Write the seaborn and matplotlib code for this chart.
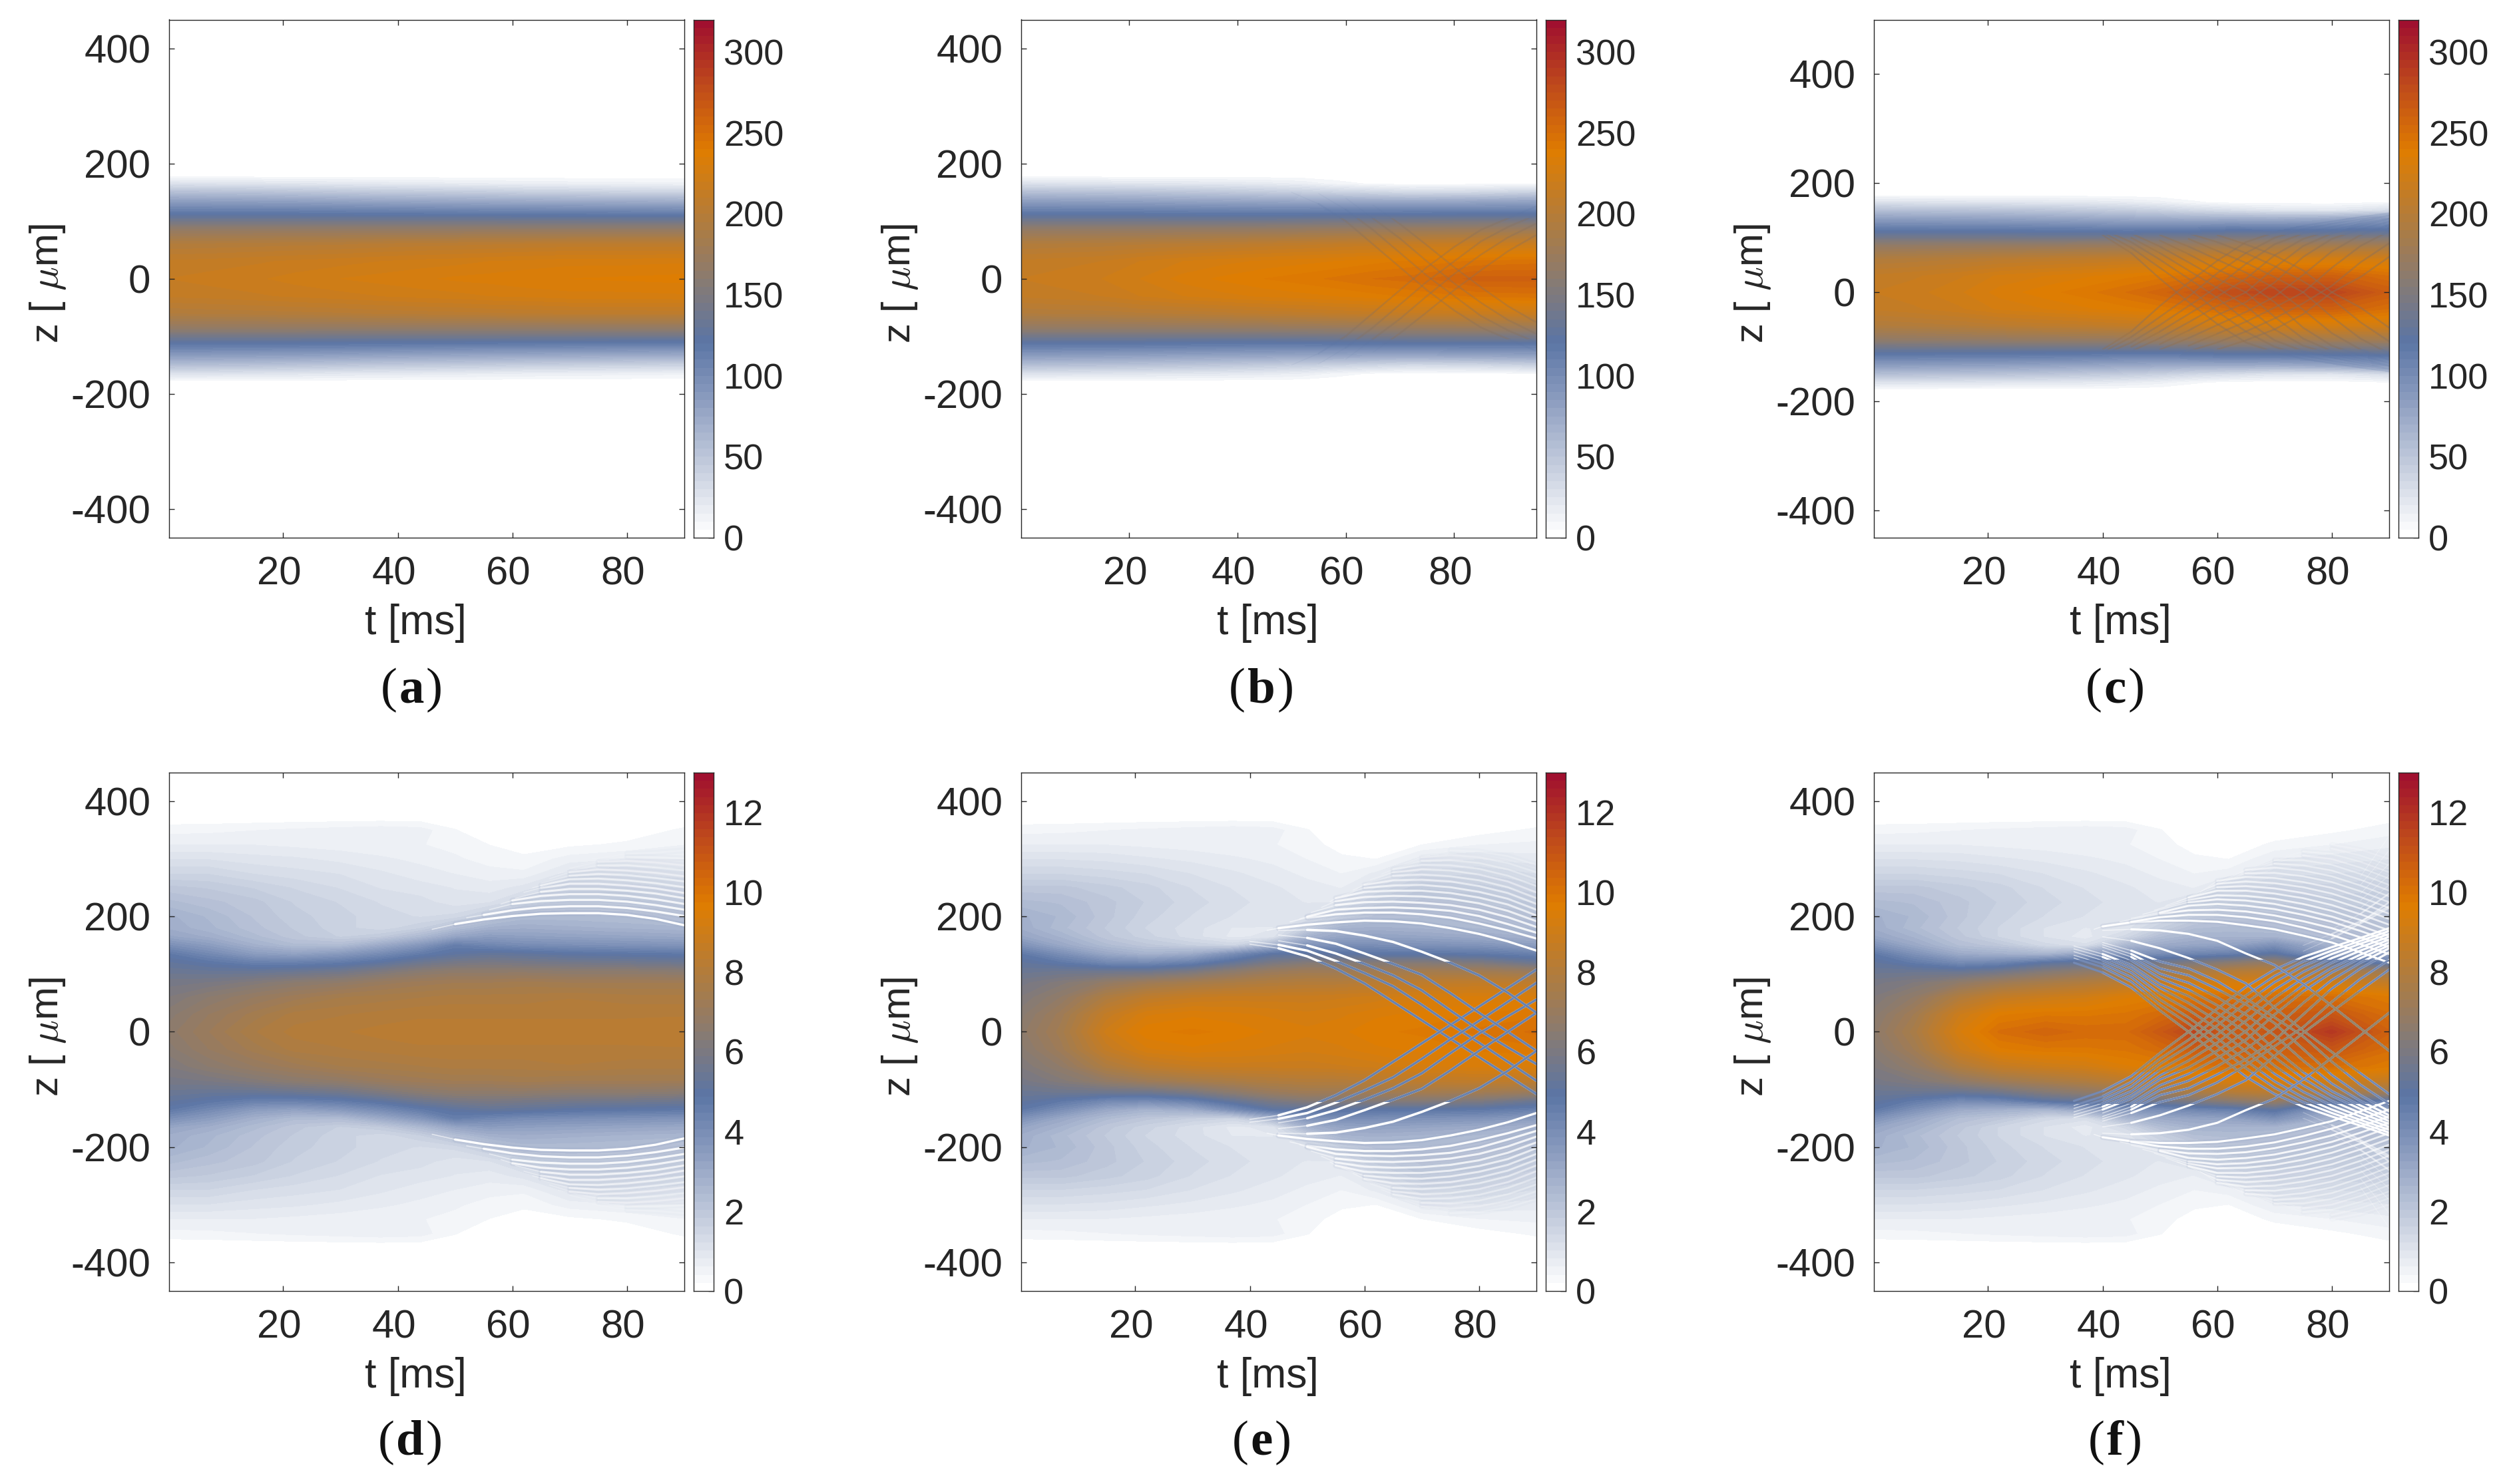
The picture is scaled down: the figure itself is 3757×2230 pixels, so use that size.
"""Density maps z(t) for six runs, two rows of panels."""

import matplotlib

matplotlib.use("Agg")
import matplotlib.pyplot as plt
import numpy as np
import seaborn as sns
from matplotlib.patches import Rectangle
from matplotlib.transforms import ScaledTranslation

nan = np.nan

# field readings on the z >= 0 half, the panels are mirror symmetric in z
T_KNOTS = [0, 7, 15, 22, 30, 37, 44, 50, 56, 62, 70, 80, 90]
T_KNOTS_B = [0, 7, 15, 22, 30, 37, 45, 52, 58, 65, 72, 84, 96]
Z_TOP = [0, 30, 60, 85, 105, 120, 135, 150, 165, 180]
Z_BOTTOM = [0, 30, 60, 85, 105, 120, 135, 150, 165, 180, 200, 225, 250, 275, 300, 325, 350, 375]

FIELD_A = [
    [215, 217, 219, 222, 225, 227, 229, 231, 232, 234, 235, 236, 237],
    [211, 212, 214, 216, 218, 220, 222, 223, 225, 226, 228, 228, 229],
    [195, 196, 197, 198, 199, 201, 202, 203, 204, 205, 206, 206, 206],
    [167, 167, 167, 167, 167, 167, 167, 167, 167, 167, 167, 167, 167],
    [131, 131, 131, 131, 130, 130, 130, 130, 130, 129, 129, 128, 128],
    [106, 106, 105, 105, 104, 103, 102, 101, 100, 100, 99, 98, 97],
    [81, 80, 79, 78, 76, 74, 73, 72, 71, 70, 69, 68, 67],
    [53, 52, 51, 49, 47, 45, 44, 43, 42, 40, 39, 37, 36],
    [24, 23, 22, 21, 19, 18, 17, 16, 15, 14, 13, 12, 11],
    [0, 0, 0, 0, 0, 0, 0, 0, 0, 0, 0, 0, 0],
]
FIELD_B = [
    [215, 217, 220, 225, 232, 236, 240, 243, 246, 250, 252, 262, 262],
    [211, 213, 215, 220, 225, 228, 231, 233, 235, 238, 241, 246, 248],
    [195, 196, 197, 199, 201, 203, 206, 208, 210, 212, 214, 216, 218],
    [167, 167, 167, 167, 168, 168, 169, 170, 171, 172, 173, 174, 175],
    [131, 131, 131, 131, 130, 130, 130, 131, 132, 132, 133, 134, 134],
    [106, 106, 105, 105, 104, 103, 102, 102, 103, 103, 103, 104, 104],
    [81, 80, 79, 78, 76, 75, 74, 72, 72, 71, 70, 73, 76],
    [53, 52, 51, 50, 48, 46, 43, 40, 37, 34, 30, 32, 38],
    [24, 23, 22, 21, 20, 19, 17, 14, 8, 4, 2, 3, 5],
    [0, 0, 0, 0, 0, 0, 0, 0, 0, 0, 0, 0, 0],
]
FIELD_C = [
    [215, 218, 224, 232, 238, 243, 250, 258, 268, 278, 285, 285, 265],
    [211, 214, 219, 226, 230, 234, 238, 242, 248, 255, 262, 262, 250],
    [195, 197, 200, 204, 207, 209, 212, 214, 218, 224, 228, 228, 225],
    [167, 168, 169, 170, 171, 172, 173, 174, 176, 180, 182, 184, 184],
    [131, 131, 131, 131, 130, 130, 130, 131, 132, 136, 136, 138, 140],
    [106, 106, 105, 105, 104, 103, 100, 100, 102, 105, 104, 106, 110],
    [81, 80, 79, 78, 76, 74, 72, 70, 68, 68, 67, 72, 80],
    [53, 52, 51, 50, 48, 45, 42, 38, 32, 28, 22, 20, 28],
    [24, 23, 22, 21, 20, 19, 16, 12, 6, 3, 2, 2, 5],
    [0, 0, 0, 0, 0, 0, 0, 0, 0, 0, 0, 0, 0],
]
FIELD_D = [
    [6.6, 7.1, 7.7, 8.0, 8.1, 8.2, 8.2, 8.2, 8.2, 8.2, 8.2, 8.2, 8.3],
    [6.4, 6.9, 7.4, 7.8, 7.9, 8.0, 8.1, 8.1, 8.1, 8.1, 8.1, 8.1, 8.1],
    [6.1, 6.5, 6.9, 7.2, 7.5, 7.6, 7.7, 7.8, 7.8, 7.8, 7.9, 7.8, 7.8],
    [5.8, 5.9, 6.2, 6.5, 6.7, 7.0, 7.2, 7.3, 7.3, 7.4, 7.3, 7.3, 7.3],
    [5.4, 5.3, 5.3, 5.4, 5.6, 6.0, 6.4, 6.6, 6.6, 6.6, 6.5, 6.5, 6.4],
    [5.1, 4.8, 4.4, 4.4, 4.6, 5.0, 5.5, 5.8, 5.9, 5.8, 5.7, 5.6, 5.5],
    [4.7, 4.1, 3.4, 3.2, 3.5, 4.0, 4.6, 5.0, 5.2, 5.1, 4.9, 4.8, 4.7],
    [3.9, 3.4, 2.7, 2.3, 2.3, 2.9, 3.6, 4.5, 4.2, 4.0, 3.9, 3.8, 3.7],
    [3.1, 2.8, 2.3, 1.9, 1.6, 1.8, 2.4, 3.1, 3.4, 3.3, 3.2, 3.1, 3.0],
    [2.8, 2.5, 2.1, 1.8, 1.5, 1.3, 1.6, 2.2, 2.7, 2.8, 2.7, 2.6, 2.5],
    [2.7, 2.4, 2.0, 1.7, 1.5, 1.3, 1.2, 1.3, 1.8, 2.3, 2.3, 2.2, 2.0],
    [2.3, 2.1, 1.9, 1.6, 1.4, 1.2, 1.1, 0.9, 1.0, 1.4, 1.7, 1.7, 1.6],
    [1.9, 1.8, 1.6, 1.4, 1.2, 1.0, 0.9, 0.8, 0.7, 0.9, 1.3, 1.3, 1.2],
    [1.4, 1.4, 1.2, 1.1, 1.0, 0.85, 0.7, 0.6, 0.5, 0.45, 0.9, 1.0, 0.9],
    [1.0, 1.0, 0.9, 0.85, 0.75, 0.65, 0.55, 0.45, 0.3, 0.25, 0.5, 0.6, 0.6],
    [0.6, 0.6, 0.6, 0.55, 0.5, 0.45, 0.42, 0.32, 0.2, 0.1, 0.15, 0.25, 0.4],
    [0.33, 0.35, 0.4, 0.45, 0.5, 0.55, 0.5, 0.22, 0, 0, 0, 0.05, 0.25],
    [0, 0, 0, 0, 0, 0, 0, 0, 0, 0, 0, 0, 0],
]
FIELD_E = [
    [6.6, 7.4, 9.0, 9.7, 9.8, 9.7, 9.5, 9.4, 9.5, 9.7, 9.8, 10.0, 10.2],
    [6.4, 7.2, 8.6, 9.3, 9.5, 9.4, 9.3, 9.2, 9.3, 9.5, 9.6, 9.8, 9.9],
    [6.1, 6.7, 7.8, 8.4, 8.7, 8.8, 8.8, 8.8, 8.9, 9.0, 9.3, 9.4, 9.4],
    [5.8, 6.2, 6.8, 7.2, 7.5, 7.7, 7.9, 8.0, 8.0, 8.2, 8.4, 8.5, 8.4],
    [5.4, 5.5, 5.5, 5.5, 5.9, 6.5, 7.0, 7.2, 7.2, 7.3, 7.4, 7.3, 7.0],
    [5.1, 4.7, 4.1, 4.0, 4.4, 5.2, 5.9, 6.2, 6.2, 6.2, 6.2, 6.0, 5.4],
    [4.7, 3.9, 3.0, 2.6, 2.9, 3.9, 4.9, 5.0, 4.9, 4.8, 4.8, 4.7, 4.4],
    [3.8, 3.0, 2.3, 1.9, 1.6, 1.4, 2.6, 3.7, 3.9, 3.9, 3.8, 3.7, 3.4],
    [3.1, 2.6, 1.9, 1.5, 1.1, 0.75, 0.9, 2.6, 3.1, 3.2, 3.1, 2.9, 2.6],
    [2.8, 2.3, 1.8, 1.4, 1.1, 0.8, 0.8, 1.6, 2.6, 2.7, 2.6, 2.4, 2.2],
    [2.7, 2.4, 1.9, 1.5, 1.2, 1.0, 0.9, 1.0, 1.6, 2.1, 2.2, 2.1, 1.9],
    [2.3, 2.2, 1.9, 1.6, 1.3, 1.1, 0.9, 0.8, 0.8, 1.5, 1.9, 1.8, 1.6],
    [1.9, 1.9, 1.7, 1.5, 1.2, 1.0, 0.85, 0.7, 0.6, 1.0, 1.6, 1.5, 1.3],
    [1.4, 1.4, 1.3, 1.2, 1.0, 0.85, 0.7, 0.55, 0.4, 0.65, 1.1, 1.2, 1.0],
    [1.0, 1.0, 0.95, 0.85, 0.75, 0.65, 0.55, 0.4, 0.25, 0.2, 0.7, 0.8, 0.7],
    [0.6, 0.6, 0.6, 0.55, 0.5, 0.45, 0.42, 0.3, 0.1, 0, 0.2, 0.4, 0.45],
    [0.33, 0.35, 0.4, 0.45, 0.5, 0.55, 0.5, 0.22, 0, 0, 0, 0.1, 0.25],
    [0, 0, 0, 0, 0, 0, 0, 0, 0, 0, 0, 0, 0],
]
FIELD_F = [
    [6.6, 7.6, 9.3, 10.2, 10.5, 10.3, 10.3, 10.9, 11.6, 10.9, 11.0, 11.9, 10.6],
    [6.4, 7.3, 8.9, 9.7, 9.9, 9.9, 10.0, 10.3, 10.8, 10.7, 10.7, 11.0, 10.2],
    [6.1, 6.7, 7.9, 8.6, 8.9, 9.1, 9.5, 9.7, 10.0, 10.2, 10.2, 10.2, 9.8],
    [5.8, 6.1, 6.7, 7.2, 7.6, 7.9, 8.3, 8.6, 9.0, 9.3, 9.4, 9.0, 8.6],
    [5.4, 5.4, 5.3, 5.6, 6.2, 6.6, 7.0, 7.3, 7.6, 8.0, 8.2, 7.6, 7.2],
    [5.1, 4.6, 4.0, 4.2, 4.9, 5.3, 5.6, 5.7, 6.0, 6.4, 6.9, 5.2, 4.6],
    [4.7, 3.8, 2.9, 2.7, 2.5, 3.1, 3.6, 3.9, 4.2, 4.4, 5.0, 3.2, 3.0],
    [3.8, 3.0, 2.2, 1.9, 1.3, 1.1, 2.4, 2.9, 3.1, 3.2, 3.8, 2.6, 2.5],
    [3.1, 2.6, 1.9, 1.4, 1.0, 0.7, 1.3, 2.2, 2.6, 2.6, 2.6, 2.1, 2.2],
    [2.8, 2.3, 1.8, 1.4, 1.0, 0.8, 0.9, 1.6, 2.2, 2.3, 2.2, 2.0, 1.9],
    [2.7, 2.4, 1.9, 1.5, 1.2, 1.0, 0.9, 1.1, 1.6, 1.9, 1.9, 1.8, 1.8],
    [2.3, 2.2, 1.9, 1.6, 1.3, 1.1, 0.9, 0.8, 1.1, 1.4, 1.6, 1.5, 1.6],
    [1.9, 1.9, 1.7, 1.5, 1.2, 1.0, 0.85, 0.7, 0.6, 1.0, 1.3, 1.3, 1.4],
    [1.4, 1.4, 1.3, 1.2, 1.0, 0.85, 0.7, 0.55, 0.4, 0.5, 0.9, 1.0, 1.1],
    [1.0, 1.0, 0.95, 0.85, 0.75, 0.65, 0.55, 0.4, 0.25, 0.2, 0.6, 0.7, 0.8],
    [0.6, 0.6, 0.6, 0.55, 0.5, 0.45, 0.42, 0.3, 0.1, 0.05, 0.25, 0.4, 0.55],
    [0.33, 0.35, 0.4, 0.45, 0.5, 0.55, 0.5, 0.22, 0, 0, 0.05, 0.15, 0.3],
    [0, 0, 0, 0, 0, 0, 0, 0, 0, 0, 0, 0, 0.1],
]

# ripples, z read at fixed times, the mirror image is drawn as well
B_LINE_T = [50, 55, 60, 65, 70, 75, 80, 85, 90, 95]
B_LINES = [
    [150, 130, 100, 60, 20, -20, -55, -85, -105, -125],
    [nan, 148, 120, 85, 45, 5, -30, -65, -90, -110],
    [nan, nan, 140, 105, 70, 30, -8, -42, -72, -95],
    [nan, nan, nan, 128, 95, 58, 20, -15, -48, -75],
]
C_LINE_T = [40, 45, 50, 55, 60, 65, 70, 75, 80, 85, 90]
C_LINES = [
    [105, 72, 25, -18, -58, -92, -110, -122, -130, -138, -145],
    [110, 82, 45, 8, -35, -72, -100, -116, -126, -134, -142],
    [115, 92, 60, 25, -10, -52, -88, -108, -120, -130, -140],
    [nan, 100, 72, 40, 8, -25, -68, -98, -114, -126, -136],
    [nan, 108, 84, 55, 25, 0, -45, -85, -108, -122, -134],
    [nan, nan, 95, 70, 42, 18, -18, -65, -98, -116, -130],
    [nan, nan, 105, 84, 60, 36, 8, -32, -75, -105, -124],
    [nan, nan, nan, 98, 76, 54, 28, 0, -45, -85, -112],
    [nan, nan, nan, 108, 92, 72, 48, 20, -12, -55, -90],
    [nan, nan, nan, nan, 105, 88, 68, 40, 0, -28, -65],
]
D_ARCH_T = [50, 55, 60, 65, 70, 75, 80, 85, 90]
D_ARCHES = [
    [187, 195, 201, 205, 206, 206, 203, 196, 185],
    [nan, 203, 211, 216, 218, 218, 215, 209, 201],
    [nan, nan, 222, 227, 229, 229, 226, 220, 212],
    [nan, nan, 228, 236, 239, 239, 236, 230, 222],
    [nan, nan, nan, 243, 248, 248, 245, 240, 232],
    [nan, nan, nan, 250, 257, 257, 254, 249, 241],
    [nan, nan, nan, 254, 265, 266, 263, 258, 251],
    [nan, nan, nan, nan, 271, 274, 272, 267, 261],
    [nan, nan, nan, nan, 277, 282, 280, 276, 270],
    [nan, nan, nan, nan, nan, 289, 289, 285, 280],
    [nan, nan, nan, nan, nan, 295, 297, 294, 289],
    [nan, nan, nan, nan, nan, nan, 304, 303, 301],
    [nan, nan, nan, nan, nan, nan, 309, 311, 315],
]
D_START_T = [46, 52, 56, 58, 60.5, 62, 63.5, 65, 66.5, 68, 70, 72, 74]
D_START_Z = [178, 198, 212, 222, 232, 242, 250, 258, 266, 275, 284, 292, 300]

E_LINE_T = [40, 45, 50, 55, 60, 65, 70, 75, 80, 85, 90]
E_LINES = [
    [152, 145, 131, 110, 84, 52, 20, -12, -44, -76, -108],
    [157, 151, 141, 123, 102, 79, 47, 13, -19, -52, -85],
    [nan, 158, 150, 136, 118, 98, 72, 37, 3, -27, -56],
    [nan, 168, 163, 153, 136, 118, 99, 67, 33, 0, -33],
    [nan, 176, 177, 175, 167, 156, 139, 120, 98, 68, 33],
]
E_ARCH_T = [45, 50, 55, 60, 65, 70, 75, 80, 85, 90]
E_ARCHES = [
    [180, 186, 190, 193, 192, 188, 180, 170, 157, 141],
    [nan, 198, 204, 207, 207, 204, 198, 188, 176, 162],
    [nan, 200, 212, 215, 216, 214, 210, 201, 187, 172],
    [nan, nan, 220, 225, 226, 224, 220, 212, 199, 182],
    [nan, nan, 227, 234, 236, 235, 231, 223, 210, 192],
    [nan, nan, 232, 243, 245, 245, 241, 233, 221, 202],
    [nan, nan, nan, 250, 254, 255, 251, 243, 231, 212],
    [nan, nan, nan, 255, 263, 264, 261, 253, 241, 222],
    [nan, nan, nan, nan, 271, 273, 270, 263, 251, 232],
    [nan, nan, nan, nan, 277, 282, 280, 273, 261, 242],
    [nan, nan, nan, nan, 282, 290, 289, 283, 271, 253],
    [nan, nan, nan, nan, nan, 297, 298, 293, 282, 265],
    [nan, nan, nan, nan, nan, 303, 307, 303, 293, 277],
    [nan, nan, nan, nan, nan, nan, 315, 313, 305, 290],
]
E_START_T = [43, 47, 48.7, 50.7, 52.5, 54, 56, 58, 59.5, 61, 63, 65, 67, 69]
E_START_Z = [176, 191, 196, 207, 216, 226, 236, 246, 255, 264, 274, 283, 292, 301]

F_LINE_T = [35, 40, 45, 50, 55, 60, 65, 70, 75, 80, 85, 90]
F_LINES = [
    [120, 103, 77, 37, 0, -40, -78, -108, -130, -147, -163, -180],
    [128, 112, 87, 47, 14, -24, -63, -97, -122, -141, -158, -175],
    [133, 118, 95, 56, 25, -11, -50, -86, -114, -135, -153, -170],
    [139, 124, 103, 66, 38, 5, -34, -73, -104, -128, -147, -165],
    [144, 130, 110, 76, 50, 19, -19, -59, -93, -120, -141, -160],
    [149, 135, 116, 83, 62, 33, -1, -44, -81, -111, -134, -155],
    [nan, 141, 124, 93, 73, 46, 14, -30, -70, -103, -128, -150],
    [nan, 147, 130, 101, 85, 60, 30, -6, -50, -90, -120, -145],
    [nan, 151, 135, 110, 98, 74, 48, 15, -30, -75, -110, -138],
    [nan, 155, 141, 122, 110, 88, 58, 25, -8, -52, -92, -125],
    [nan, 165, 158, 145, 128, 108, 84, 42, 2, -35, -72, -108],
    [nan, 176, 178, 176, 170, 158, 136, 116, 83, 45, 6, -33],
]
F_ARCH_T = [40, 45, 50, 55, 60, 65, 70, 75, 80, 85, 90]
F_ARCHES = [
    [183, 190, 193, 193, 191, 185, 178, 167, 155, 138, 120],
    [nan, 191, 199, 203, 203, 199, 192, 181, 168, 152, 135],
    [nan, nan, 205, 211, 212, 209, 202, 192, 180, 164, 147],
    [nan, nan, 207, 219, 222, 219, 213, 203, 191, 175, 158],
    [nan, nan, nan, 225, 230, 228, 222, 212, 200, 184, 166],
    [nan, nan, nan, 229, 237, 236, 231, 222, 210, 194, 176],
    [nan, nan, nan, 233, 245, 245, 240, 232, 220, 204, 186],
    [nan, nan, nan, nan, 251, 253, 249, 241, 230, 214, 196],
    [nan, nan, nan, nan, 257, 261, 258, 251, 240, 224, 205],
    [nan, nan, nan, nan, 262, 269, 267, 260, 250, 234, 215],
    [nan, nan, nan, nan, nan, 275, 276, 270, 260, 244, 225],
    [nan, nan, nan, nan, nan, 281, 285, 280, 270, 254, 235],
    [nan, nan, nan, nan, nan, nan, 292, 289, 280, 264, 245],
    [nan, nan, nan, nan, nan, nan, 298, 298, 290, 274, 255],
    [nan, nan, nan, nan, nan, nan, nan, 306, 300, 285, 266],
    [nan, nan, nan, nan, nan, nan, nan, 313, 309, 295, 277],
    [nan, nan, nan, nan, nan, nan, nan, nan, 318, 306, 289],
    [nan, nan, nan, nan, nan, nan, nan, nan, 325, 316, 300],
]
F_START_T = [38.5, 41, 43, 45, 47, 49, 51, 53, 55, 57, 58.5, 60, 62, 64, 66, 68, 70, 72]
F_START_Z = [178, 185, 191, 197, 204, 211, 219, 226, 234, 242, 250, 258, 266, 274, 282, 290, 298, 306]
F_LATE_T = [75, 80, 85, 90]
F_LATE = [
    [150, 170, 192, 218],
    [nan, 165, 190, 225],
    [140, 162, 188, 215],
    [nan, 178, 205, 240],
    [nan, nan, 215, 255],
    [nan, nan, 228, 272],
    [nan, nan, 240, 292],
    [nan, nan, 255, 315],
    [nan, nan, 270, 340],
]

Z_TICKS = [-400, -200, 0, 200, 400]
T_TICKS = [20, 40, 60, 80]
TOP_CB_TICKS = [0, 50, 100, 150, 200, 250, 300]
BOTTOM_CB_TICKS = [0, 2, 4, 6, 8, 10, 12]

W, H = 3757, 2230
INK = "#262626"

sns.set_theme(style="ticks")
plt.rcParams["font.family"] = ["Liberation Sans", "DejaVu Sans"]
plt.rcParams["axes.unicode_minus"] = False
plt.rcParams["mathtext.fontset"] = "cm"
plt.rcParams["text.color"] = INK

# colour bar sampled every eighth of its height
CMAP = sns.blend_palette(
    ["#ffffff", "#c7cfdf", "#91a1c2", "#5b75a5", "#8a7b70", "#b57c38", "#e07d00", "#c04c1a", "#a0102f"],
    n_colors=256,
    as_cmap=True,
)


def place(x0, y0, x1, y1):
    """Axes rectangle from reference pixels."""
    return [x0 / W, 1 - y1 / H, (x1 - x0) / W, (y1 - y0) / H]


def mirrored(z, table):
    z = np.asarray(z, dtype=float)
    table = np.asarray(table, dtype=float)
    return np.r_[-z[:0:-1], z], np.vstack([table[:0:-1], table])


def draw_curve(ax, t, z, color, lw, alpha, zb=None):
    t = np.asarray(t, dtype=float)
    z = np.asarray(z, dtype=float)
    ok = ~np.isnan(z)
    sns.lineplot(
        x=t[ok], y=z[ok], ax=ax, color=color, lw=lw, alpha=alpha,
        estimator=None, sort=False, errorbar=None, legend=False,
    )
    if zb is not None:
        x0, x1 = ax.get_xlim()
        clip = Rectangle((x0, -zb), x1 - x0, 2 * zb, transform=ax.transData)
        ax.lines[-1].set_clip_path(clip)


def draw_tapered(ax, t, z, color, lw, alpha):
    """First stretch of a ripple is fainter and thinner, as it only just forms."""
    t = np.asarray(t, dtype=float)
    z = np.asarray(z, dtype=float)
    ok = ~np.isnan(z)
    t, z = t[ok], z[ok]
    draw_curve(ax, t[:2], z[:2], color, lw * 0.45, alpha * 0.6)
    draw_curve(ax, t[1:], z[1:], color, lw, alpha)


def draw_lines(ax, t, rows, lw=2.4, outer="white", outer_alpha=1.0, core=(), core_alpha=1.0):
    """Lines crossing the core: white outside it, darker inside."""
    for row in rows:
        for sign in (1, -1):
            z = sign * np.asarray(row, dtype=float)
            draw_tapered(ax, t, z, outer, lw, outer_alpha)
            for color, zb in core:
                draw_curve(ax, t, z, color, lw, core_alpha, zb=zb)


def draw_arches(ax, t, rows, start_t, start_z, lw=2.4):
    """Outer white arches, fading with height."""
    n = len(rows)
    for i, row in enumerate(rows):
        fade = 1.0 - 0.85 * i / n
        tt = np.r_[start_t[i], t]
        for sign in (1, -1):
            z = sign * np.r_[start_z[i], row]
            draw_curve(ax, tt[1:], z[1:], "#8f9fc0", lw * 2.6, 0.16 * fade)
            draw_tapered(ax, tt, z, "white", lw * (1 - 0.25 * i / n), fade)


def write_caption(letter, cx, cy):
    """Regular brackets round a bold letter."""
    font = dict(family="Liberation Serif", fontsize=54, va="center", color="#111111")
    mid = fig.text(cx / W, 1 - cy / H, letter, ha="center", weight="bold", **font)
    box = mid.get_window_extent(fig.canvas.get_renderer())
    fig.text((box.x0 - 3) / W, 1 - cy / H, "(", ha="right", **font)
    fig.text((box.x1 + 3) / W, 1 - cy / H, ")", ha="left", **font)


def base_panel(ax_box, cb_box, t, z, table, vmax, cb_ticks, xlim, ylim, caption, cap_xy):
    ax = fig.add_axes(place(*ax_box))
    cax = fig.add_axes(place(*cb_box))

    zz, values = mirrored(z, table)
    levels = np.linspace(0, vmax, 65)[1:]
    ax.contourf(t, zz, values, levels=levels, cmap=CMAP, vmin=0, vmax=vmax)
    ax.set_xlim(*xlim)
    ax.set_ylim(*ylim)
    ax.set_xticks(T_TICKS)
    ax.set_yticks(Z_TICKS)
    ax.tick_params(
        direction="in", length=5.5, width=1.0, color=INK, labelcolor=INK,
        labelsize=43, top=True, right=True, pad=20,
    )
    shift = ScaledTranslation(-6 / 100, 0, fig.dpi_scale_trans)
    for label in ax.get_xticklabels():
        label.set_transform(label.get_transform() + shift)
    ax.set_xlabel("t [ms]", fontsize=45, labelpad=12, color=INK, x=0.478)
    ax.set_ylabel(r"z [ $\mu$m]", fontsize=43, labelpad=3, color=INK, y=0.49)
    for spine in ax.spines.values():
        spine.set_linewidth(1.0)
        spine.set_color(INK)
    ax.set_axisbelow(False)

    strip = np.linspace(vmax, 0, 64)[:, None]
    sns.heatmap(
        strip, ax=cax, cmap=CMAP, vmin=0, vmax=vmax, cbar=False,
        xticklabels=False, yticklabels=False,
    )
    cax.yaxis.tick_right()
    cax.set_yticks([(vmax - v) / vmax * 64 for v in cb_ticks])
    cax.set_yticklabels([str(v) for v in cb_ticks], rotation=0)
    cax.tick_params(
        axis="y", direction="in", length=5.5, width=1.0, color=INK,
        labelcolor=INK, labelsize=39, left=False, right=True, pad=11,
    )
    for spine in cax.spines.values():
        spine.set_visible(True)
        spine.set_linewidth(1.0)
        spine.set_color(INK)

    write_caption(caption, *cap_xy)
    return ax


fig = plt.figure(figsize=(W / 100, H / 100), dpi=100, facecolor="white")

TOP_Y = (29.5, 808)
BOTTOM_Y = (1161, 1940)
COLS = [(254, 1028, 1042, 1072), (1534, 2308, 2322, 2352), (2815, 3589, 3603, 3633)]

ax_a = base_panel(
    (COLS[0][0], TOP_Y[0], COLS[0][1], TOP_Y[1]), (COLS[0][2], TOP_Y[0], COLS[0][3], TOP_Y[1]),
    T_KNOTS, Z_TOP, FIELD_A, 320, TOP_CB_TICKS, (0.1, 90), (-450, 450), "a", (618, 1037),
)
ax_b = base_panel(
    (COLS[1][0], TOP_Y[0], COLS[1][1], TOP_Y[1]), (COLS[1][2], TOP_Y[0], COLS[1][3], TOP_Y[1]),
    T_KNOTS_B, Z_TOP, FIELD_B, 320, TOP_CB_TICKS, (0.1, 95.2), (-450, 450), "b", (1895, 1037),
)
draw_lines(
    ax_b, B_LINE_T, B_LINES, lw=1.8, outer="#5b75a5", outer_alpha=0.15,
    core=[("#a0703a", 105)], core_alpha=0.22,
)
ax_c = base_panel(
    (COLS[2][0], TOP_Y[0], COLS[2][1], TOP_Y[1]), (COLS[2][2], TOP_Y[0], COLS[2][3], TOP_Y[1]),
    T_KNOTS, Z_TOP, FIELD_C, 320, TOP_CB_TICKS, (0.1, 90), (-450, 500), "c", (3177, 1037),
)
draw_lines(
    ax_c, C_LINE_T, C_LINES, lw=1.8, outer="#5b75a5", outer_alpha=0.2,
    core=[("#a0703a", 105)], core_alpha=0.3,
)

ax_d = base_panel(
    (COLS[0][0], BOTTOM_Y[0], COLS[0][1], BOTTOM_Y[1]), (COLS[0][2], BOTTOM_Y[0], COLS[0][3], BOTTOM_Y[1]),
    T_KNOTS, Z_BOTTOM, FIELD_D, 13, BOTTOM_CB_TICKS, (0.1, 90), (-450, 450), "d", (616, 2168),
)
draw_arches(ax_d, D_ARCH_T, D_ARCHES, D_START_T, D_START_Z)

ax_e = base_panel(
    (COLS[1][0], BOTTOM_Y[0], COLS[1][1], BOTTOM_Y[1]), (COLS[1][2], BOTTOM_Y[0], COLS[1][3], BOTTOM_Y[1]),
    T_KNOTS, Z_BOTTOM, FIELD_E, 13, BOTTOM_CB_TICKS, (0.1, 90), (-450, 450), "e", (1895, 2168),
)
draw_arches(ax_e, E_ARCH_T, E_ARCHES, E_START_T, E_START_Z)
draw_lines(ax_e, E_LINE_T, E_LINES, lw=2.6, core=[("#6a82ad", 122)])

ax_f = base_panel(
    (COLS[2][0], BOTTOM_Y[0], COLS[2][1], BOTTOM_Y[1]), (COLS[2][2], BOTTOM_Y[0], COLS[2][3], BOTTOM_Y[1]),
    T_KNOTS, Z_BOTTOM, FIELD_F, 13, BOTTOM_CB_TICKS, (0.1, 90), (-450, 450), "f", (3177, 2168),
)
draw_arches(ax_f, F_ARCH_T, F_ARCHES, F_START_T, F_START_Z, lw=2.2)
draw_lines(ax_f, F_LATE_T, F_LATE, lw=1.8, outer_alpha=0.5)
draw_lines(ax_f, F_LINE_T, F_LINES, lw=2.3, core=[("#7489b3", 125), ("#99866a", 70)])

fig.savefig("out.png", dpi=100, facecolor="white")
plt.close(fig)
